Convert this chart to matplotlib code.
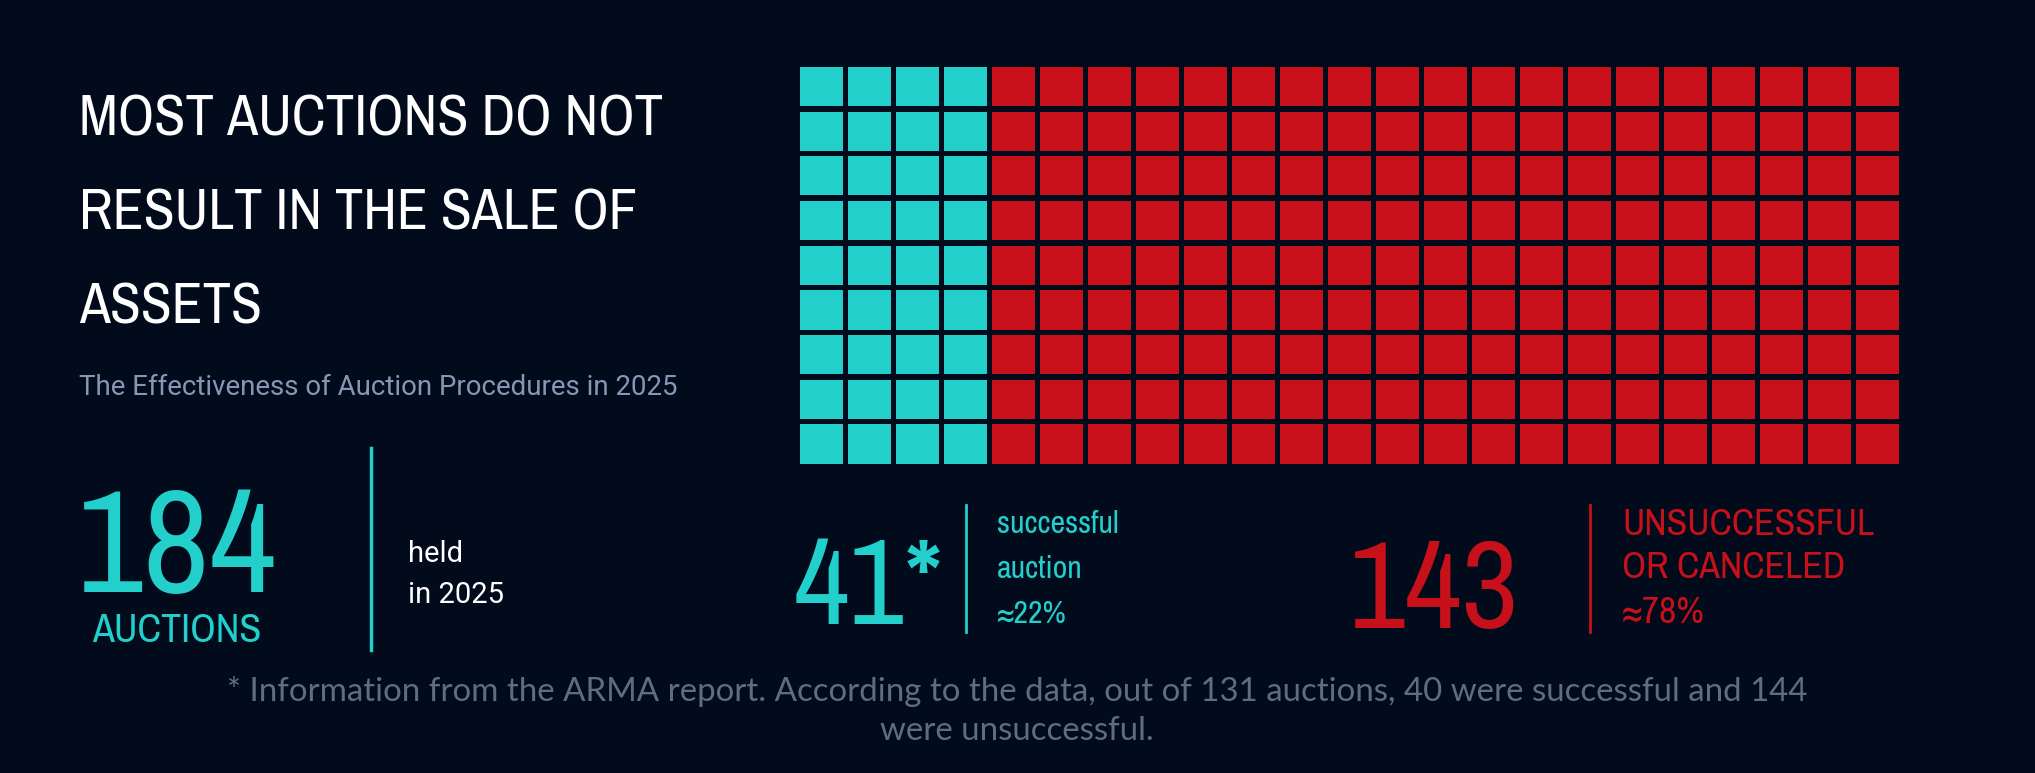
import matplotlib
matplotlib.use("Agg")
import matplotlib.pyplot as plt
from matplotlib.patches import Rectangle
from matplotlib import font_manager

#Data
categories = ["successful auction", "unsuccessful or canceled"]
counts = [41, 143]
shares = ["≈22%", "≈78%"]
total_held = 184
grid_rows = 9
grid_cols = 23
success_cols = 4

BG = "#020b1c"
TEAL = "#22cfcb"
RED = "#c8101a"
GREY_SUB = "#8797b3"
GREY_NOTE = "#5f6c82"

#pick a condensed face if one is installed
names = sorted({f.name for f in font_manager.fontManager.ttflist})
narrow = [n for n in names if "Condensed" in n or "Narrow" in n]
NARROW = narrow[0] if narrow else "Roboto"

W, H = 2035, 773
fig = plt.figure(figsize=(W / 100, H / 100), dpi=100, facecolor=BG)
ax = fig.add_axes([0, 0, 1, 1])
ax.set_xlim(0, W)
ax.set_ylim(H, 0)
ax.axis("off")
ax.set_facecolor(BG)
fig.canvas.draw()
renderer = fig.canvas.get_renderer()


def fit(t, width=None, height=None):
    #shrink or grow the font so the text box matches the target size
    bb = t.get_window_extent(renderer)
    f = []
    if width:
        f.append(width / bb.width)
    if height:
        f.append(height / bb.height)
    t.set_fontsize(t.get_fontsize() * min(f))
    return t


def txt(x, y, s, w=None, h=None, **kw):
    t = ax.text(x, y, s, **kw)
    return fit(t, w, h)


#Waffle grid
x0, y0 = 800, 67
pitch_x, pitch_y = (1904 - 800) / grid_cols, (469 - 67) / grid_rows
gap = 5.5
for c in range(grid_cols):
    for r in range(grid_rows):
        col = TEAL if c < success_cols else RED
        ax.add_patch(Rectangle((x0 + c * pitch_x, y0 + r * pitch_y), pitch_x - gap, pitch_y - gap,
                               facecolor=col, edgecolor="none"))

#Title block
title_lines = ["MOST AUCTIONS DO NOT", "RESULT IN THE SALE OF", "ASSETS"]
tw = [585, 558, 183]
for i, line in enumerate(title_lines):
    txt(79, 136 + i * 94, line, w=tw[i], h=96, color="white", fontsize=60, family=NARROW,
        fontweight="bold", va="baseline")

txt(79, 395, "The Effectiveness of Auction Procedures in 2025", w=597, color=GREY_SUB,
    fontsize=20, family="Roboto", va="baseline")

txt(77, 592, str(total_held), w=200, h=180, color=TEAL, fontsize=100, family=NARROW,
    fontweight="bold", va="baseline")
txt(92, 642, "AUCTIONS", w=170, color=TEAL, fontsize=24, family=NARROW, fontweight="bold",
    va="baseline")
ax.plot([371, 371], [448, 650], color=TEAL, lw=2.5)
ax.text(408, 562, "held", color="white", fontsize=21, family="Roboto", va="baseline")
ax.text(408, 603, "in 2025", color="white", fontsize=21, family="Roboto", va="baseline")

#Successful
txt(794, 624, f"{counts[0]}*", w=150, h=150, color=TEAL, fontsize=90, family=NARROW,
    fontweight="bold", va="baseline")
ax.plot([966, 966], [505, 632], color=TEAL, lw=2)
for k, s in enumerate(["successful", "auction", shares[0]]):
    ax.text(997, 533 + k * 45, s, color=TEAL, fontsize=23, family=NARROW, fontweight="bold",
            va="baseline")

#Unsuccessful
txt(1349, 628, str(counts[1]), w=170, h=155, color=RED, fontsize=90, family=NARROW,
    fontweight="bold", va="baseline")
ax.plot([1590, 1590], [505, 632], color=RED, lw=2)
t = txt(1622, 535, "UNSUCCESSFUL", w=252, color=RED, fontsize=22, family=NARROW,
        fontweight="bold", va="baseline")
for k, s in enumerate(["OR CANCELED", shares[1]]):
    ax.text(1622, 578 + k * 45, s, color=RED, fontsize=t.get_fontsize(), family=NARROW,
            fontweight="bold", va="baseline")

#Footnote
t = txt(1017, 701, "* Information from the ARMA report. According to the data, out of 131 auctions, "
        "40 were successful and 144", w=1580, color=GREY_NOTE, fontsize=20, family="Lato",
        ha="center", va="baseline")
ax.text(1017, 740, "were unsuccessful.", color=GREY_NOTE, fontsize=t.get_fontsize(),
        family="Lato", ha="center", va="baseline")

fig.savefig("out.png", dpi=100, facecolor=BG)
